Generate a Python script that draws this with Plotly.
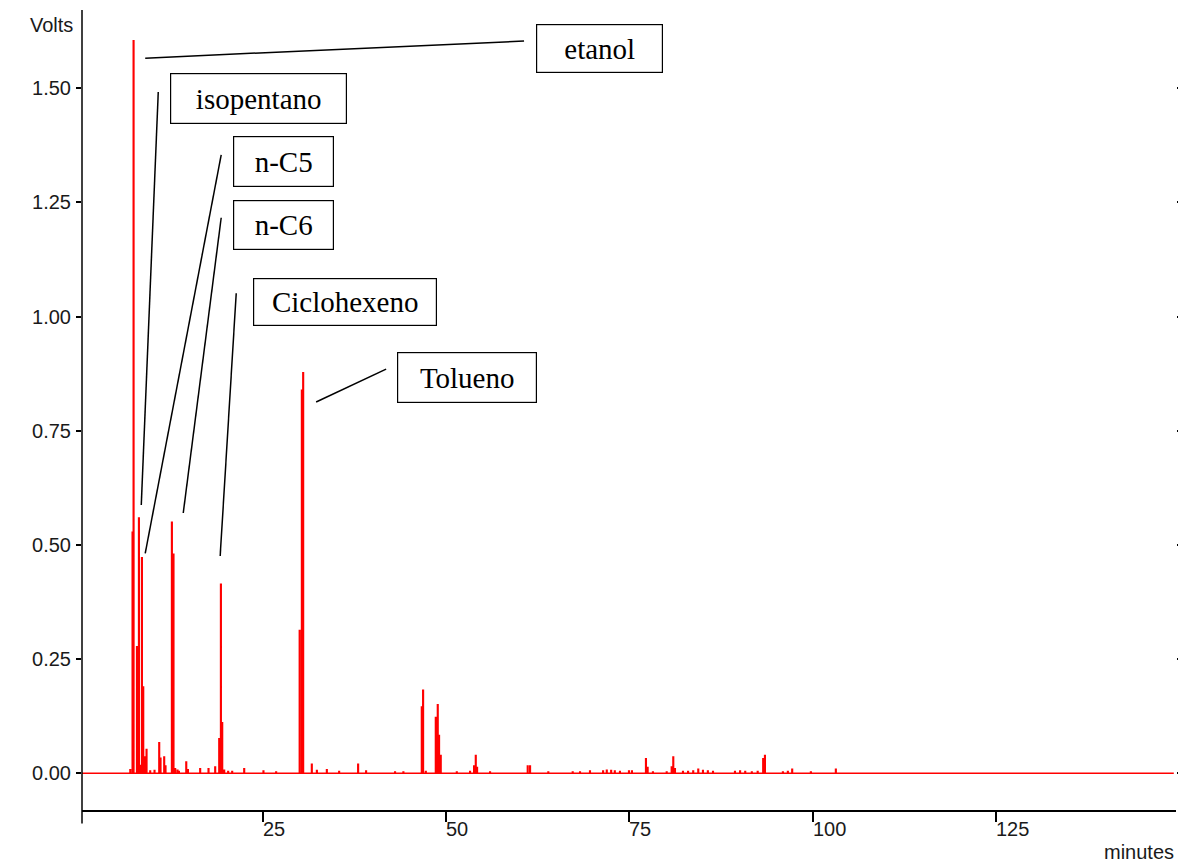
import plotly.graph_objects as go

# Chromatogram peaks: retention time (minutes) and detector response (Volts)
peak_times = [
    6.86, 7.17, 7.31, 7.77, 8.04, 8.22, 8.45, 8.63, 8.81, 9.08, 9.58, 10.17,
    10.81, 10.99, 11.49, 11.67, 12.54, 12.76, 12.99, 13.31, 13.50, 14.50, 14.73,
    16.40, 17.54, 18.45, 19.00, 19.23, 19.41, 19.68, 20.22, 20.77, 22.41, 25.04,
    26.77, 29.98, 30.28, 30.46, 31.64, 32.33, 33.69, 35.37, 37.96, 39.05, 43.00,
    44.14, 46.65, 46.83, 47.20, 48.56, 48.83, 49.01, 49.24, 51.43, 53.24, 53.79,
    54.02, 54.20, 55.97, 61.11, 61.43, 63.92, 67.25, 68.25, 69.61, 71.40, 71.90,
    72.50, 73.00, 73.70, 74.93, 75.34, 77.25, 77.48, 78.20, 80.08, 80.76, 80.98,
    81.21, 82.30, 83.00, 83.70, 84.39, 85.03, 85.70, 86.40, 89.40, 90.10, 90.80,
    91.70, 92.50, 93.25, 93.49, 95.94, 96.62, 97.21, 99.76, 103.17,
]
peak_heights = [
    0.008, 0.528, 1.604, 0.277, 0.559, 0.017, 0.472, 0.189, 0.036, 0.052, 0.005, 0.006,
    0.067, 0.033, 0.036, 0.016, 0.550, 0.480, 0.010, 0.007, 0.004, 0.025, 0.008,
    0.010, 0.010, 0.014, 0.076, 0.414, 0.111, 0.007, 0.004, 0.004, 0.010, 0.005,
    0.003, 0.313, 0.839, 0.877, 0.020, 0.006, 0.008, 0.004, 0.020, 0.005, 0.003,
    0.003, 0.145, 0.182, 0.004, 0.122, 0.150, 0.083, 0.039, 0.003, 0.004, 0.016,
    0.039, 0.013, 0.003, 0.016, 0.016, 0.003, 0.003, 0.003, 0.005, 0.005, 0.007,
    0.006, 0.005, 0.004, 0.005, 0.005, 0.032, 0.013, 0.003, 0.003, 0.014, 0.036,
    0.010, 0.004, 0.004, 0.005, 0.009, 0.006, 0.005, 0.004, 0.004, 0.005, 0.004,
    0.003, 0.004, 0.032, 0.039, 0.003, 0.004, 0.009, 0.003, 0.009,
]
run_start, run_end = 0.3, 149.3
peak_half_width = 0.05

# Compound labels: name, box centre (min, V), leader line start and end (min, V)
label_names = ["etanol", "isopentano", "n-C5", "n-C6", "Ciclohexeno", "Tolueno"]
label_x = [70.91, 24.39, 27.80, 27.80, 36.19, 52.83]
label_y = [1.587, 1.4776, 1.3396, 1.2006, 1.032, 0.8667]
label_w = [125, 175, 99, 99, 182, 138]
label_h = [47, 49, 49, 48, 46, 49]
leader_x0 = [8.90, 10.68, 19.27, 19.27, 21.32, 32.23]
leader_y0 = [1.566, 1.492, 1.354, 1.2165, 1.051, 0.813]
leader_x1 = [60.61, 8.36, 8.90, 14.09, 19.13, 41.78]
leader_y1 = [1.6035, 0.5875, 0.4817, 0.570, 0.4758, 0.885]

y_ticks = [0.0, 0.25, 0.5, 0.75, 1.0, 1.25, 1.5]
x_ticks = [25, 50, 75, 100, 125]
x_range = [0.27, 149.6]
y_range = [-0.0804, 1.6714]

axis_font = dict(family="Liberation Sans, Arial, sans-serif", size=20, color="#1a1a1a")
label_font = dict(family="Liberation Serif, Times New Roman, serif", size=29, color="#000000")

# Build the detector trace: flat baseline with a narrow spike at every peak
xs, ys = [run_start], [0.0]
for t, h in sorted(zip(peak_times, peak_heights)):
    xs += [t - peak_half_width, t - peak_half_width, t + peak_half_width, t + peak_half_width]
    ys += [0.0, h, h, 0.0]
xs.append(run_end)
ys.append(0.0)

fig = go.Figure()
fig.add_trace(go.Scatter(x=xs, y=ys, mode="lines",
                         line=dict(color="#ff0000", width=1.4),
                         hoverinfo="skip", showlegend=False))

# Compound boxes and leader lines
for name, bx, by, w, h, x0, y0, x1, y1 in zip(label_names, label_x, label_y, label_w, label_h,
                                               leader_x0, leader_y0, leader_x1, leader_y1):
    fig.add_shape(type="line", x0=x0, y0=y0, x1=x1, y1=y1, xref="x", yref="y",
                  line=dict(color="#000000", width=1.5))
    fig.add_annotation(x=bx, y=by, xref="x", yref="y", text=name, showarrow=False,
                       font=label_font, bgcolor="#ffffff", bordercolor="#000000",
                       borderwidth=1.2, borderpad=0, width=w, height=h,
                       xanchor="center", yanchor="middle", align="center", valign="middle")

# Left axis line, reaching a little below the time axis
fig.add_shape(type="line", xref="paper", yref="paper", x0=0, x1=0, y0=-0.017, y1=1,
              line=dict(color="#000000", width=1.5))

# Time tick labels sit to the right of each tick
for t in x_ticks:
    fig.add_annotation(x=t, y=-0.024, xref="x", yref="paper", text=str(t), showarrow=False,
                       font=axis_font, xanchor="left", yanchor="middle", xshift=-2)

fig.add_annotation(x=-0.006, y=0.981, xref="paper", yref="paper", text="Volts",
                   showarrow=False, font=axis_font, xanchor="right", yanchor="middle")
fig.add_annotation(x=1.0, y=-0.0525, xref="paper", yref="paper", text="minutes",
                   showarrow=False, font=axis_font, xanchor="right", yanchor="middle")

fig.update_layout(
    width=1178, height=864,
    margin=dict(l=82, r=2, t=10, b=54),
    paper_bgcolor="#ffffff", plot_bgcolor="#ffffff",
    showlegend=False,
)
fig.update_xaxes(range=x_range, tickvals=x_ticks, showticklabels=False,
                 ticks="outside", ticklen=10, tickwidth=1.5, tickcolor="#000000",
                 showline=True, linecolor="#000000", linewidth=1.5,
                 showgrid=False, zeroline=False)
fig.update_yaxes(range=y_range, tickvals=y_ticks, tickformat=".2f", tickfont=axis_font,
                 ticks="outside", ticklen=5, tickwidth=1.5, tickcolor="#000000",
                 ticklabelstandoff=1,
                 showline=False, mirror="ticks",
                 showgrid=False, zeroline=False)

fig.write_html("out.html")
